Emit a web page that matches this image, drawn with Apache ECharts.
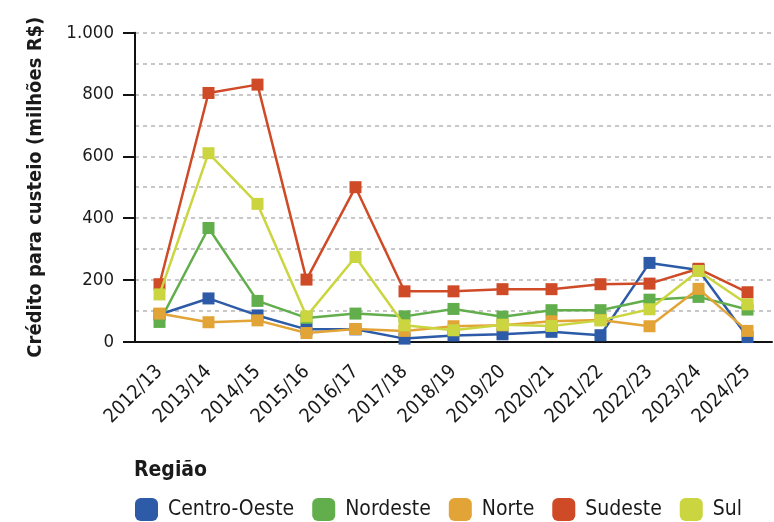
<!DOCTYPE html>
<html>
<head>
<meta charset="utf-8">
<script src="https://cdn.jsdelivr.net/npm/echarts@6/dist/echarts.min.js"></script>
<style>
html,body{margin:0;padding:0;background:#fff;}
#chart{width:774px;height:522px;}
</style>
</head>
<body>
<div id="chart"></div>
<script>
var categories = ['2012/13','2013/14','2014/15','2015/16','2016/17','2017/18','2018/19','2019/20','2020/21','2021/22','2022/23','2023/24','2024/25'];
var centroOeste = [88, 140, 85, 40, 40, 10, 20, 24, 32, 21, 255, 232, 15];
var nordeste    = [64, 368, 132, 77, 91, 82, 106, 81, 102, 102, 136, 145, 104];
var norte       = [91, 63, 69, 28, 41, 35, 50, 53, 66, 70, 50, 171, 35];
var sudeste     = [186, 805, 832, 201, 500, 163, 163, 170, 170, 186, 188, 236, 160];
var sul         = [153, 610, 446, 82, 274, 53, 37, 55, 51, 69, 105, 229, 121];
var seriesNames = ['Centro-Oeste','Nordeste','Norte','Sudeste','Sul'];
var seriesData = [centroOeste, nordeste, norte, sudeste, sul];
var colors = ['#2d5ba8','#63ae4c','#e2a436','#cf4a26','#cad540'];

var FONT = '"DejaVu Sans Condensed","Liberation Sans Narrow",sans-serif';
var TXT = '#1a1a1a';

var chart = echarts.init(document.getElementById('chart'), null, {renderer:'canvas'});
var option = {
  animation: false,
  color: colors,
  textStyle: {fontFamily: FONT, color: TXT},
  title: {
    text: 'Região', left: 134, top: 460, padding: [0,0,0,0],
    textStyle: {fontFamily: FONT, fontSize: 21, fontWeight: 'bold', color: TXT}
  },
  legend: {
    left: 135, top: 498, padding: 0,
    itemWidth: 23, itemHeight: 23, itemGap: 18,
    icon: 'roundRect',
    data: seriesNames,
    textStyle: {fontFamily: FONT, fontSize: 21, color: TXT, padding: [0,0,0,5]}
  },
  grid: {left: 135, top: 32.7, width: 637, height: 309, containLabel: false, outerBoundsMode: 'none'},
  xAxis: {
    type: 'category', data: categories, boundaryGap: true,
    axisLine: {lineStyle: {color: '#111', width: 2}},
    axisTick: {alignWithLabel: true, length: 10, lineStyle: {color: '#111', width: 2}},
    axisLabel: {rotate: 45, interval: 0, margin: 27, fontSize: 19.5, color: TXT, fontFamily: FONT},
    splitLine: {show: false}
  },
  yAxis: {
    type: 'value', min: 0, max: 1000, interval: 200,
    name: 'Crédito para custeio (milhões R$)', nameLocation: 'middle', nameGap: 89,
    nameTextStyle: {fontFamily: FONT, fontSize: 20, fontWeight: 'bold', color: TXT},
    axisLine: {show: true, lineStyle: {color: '#111', width: 2}},
    axisTick: {show: true, length: 12, lineStyle: {color: '#111', width: 2}},
    axisLabel: {margin: 21, fontSize: 18.5, color: TXT, fontFamily: FONT,
      formatter: function(v){ return v >= 1000 ? (v/1000) + '.' + String(v%1000).padStart(3,'0') : String(v); }},
    splitLine: {show: true, lineStyle: {color: '#c8c8c8', type: [4,4], width: 2}},
    minorTick: {show: false, splitNumber: 2},
    minorSplitLine: {show: true, lineStyle: {color: '#c8c8c8', type: [4,4], width: 2}}
  },
  series: seriesNames.map(function(n, i){
    return {
      name: n, type: 'line', data: seriesData[i],
      symbol: 'rect', symbolSize: 12,
      lineStyle: {width: 2.5, color: colors[i]},
      itemStyle: {color: colors[i]},
      z: 2 + i
    };
  })
};
chart.setOption(option);
</script>
</body>
</html>
